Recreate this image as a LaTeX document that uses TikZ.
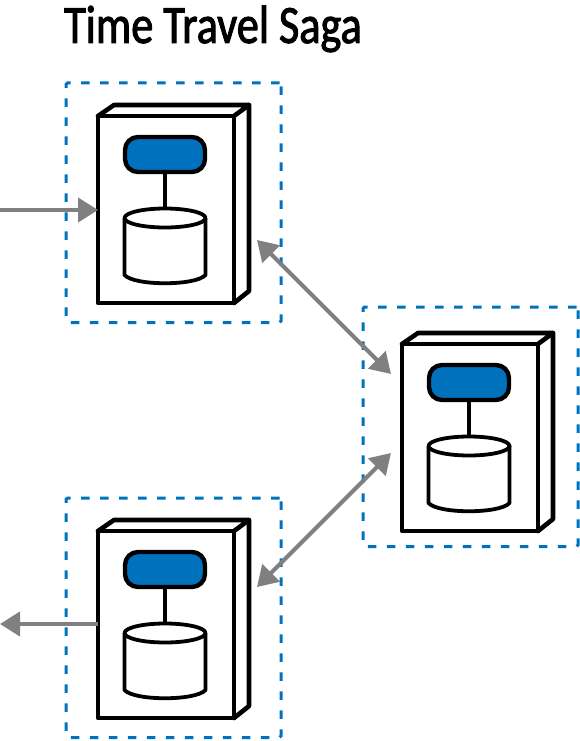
\documentclass[tikz,border=0pt]{standalone}
\usepackage{fontspec}
\setmainfont{Carlito}
\usetikzlibrary{arrows.meta}
\definecolor{sagablue}{HTML}{0071BC}
\definecolor{sagagray}{HTML}{808080}
\tikzset{
  zone/.style={draw=sagablue,line width=3pt,dash pattern=on 8.5pt off 10.5pt,rounded corners=1.5pt},
  heavy/.style={draw=black,line width=4.6pt,line join=round,line cap=round},
  pill/.style={draw=black,fill=sagablue,line width=4.4pt,rounded corners=13pt,minimum width=80pt,minimum height=35pt,inner sep=0pt,outer sep=0pt},
  thin/.style={draw=black,line width=3.8pt,line join=round},
  flow/.style={draw=sagagray,line width=4.2pt,-{Triangle[length=20pt,width=24pt]}},
  biflow/.style={draw=sagagray,line width=4.2pt,{Triangle[length=20pt,width=24pt]}-{Triangle[length=20pt,width=24pt]}},
}
% #1 name, #2 x of front-left, #3 y of front-top, #4 zone x offset, #5 zone y offset
\newcommand{\serverunit}[5]{%
  \begin{scope}[shift={(#2,#3)}]
    \node[zone,anchor=north west,minimum width=215pt,minimum height=239.5pt,inner sep=0pt,outer sep=0pt] (#1zone) at (#4,#5) {};
    \node[heavy,anchor=north west,minimum width=136pt,minimum height=187pt,inner sep=0pt,outer sep=0pt] (#1front) at (0,0) {};
    \draw[heavy] (0,0) -- (16,-11) -- (151,-11) -- (136,0);
    \draw[heavy] (151,-11) -- (151,175) -- (136,187);
    \node[pill] (#1pill) at (67,38.5) {};
    \coordinate (#1cyltop) at (67,92);
    \draw[black,line width=3.8pt] (#1pill.south) -- (#1cyltop);
    \draw[thin,fill=white] (26.5,102) -- (26.5,159) .. controls (36,170) and (98,170) .. (107.5,159) -- (107.5,102);
    \draw[thin,fill=white] (67,102) ellipse [x radius=40.5pt,y radius=9.5pt];
  \end{scope}%
}
\begin{document}
\begin{tikzpicture}[x=1pt,y=-1pt]
  \useasboundingbox (0,0) rectangle (579,741);
  \node[anchor=base west,inner sep=0pt,font=\fontsize{54}{54}\selectfont\addfontfeature{FakeStretch=0.82,FakeBold=1.8}] (title) at (64,43) {Time Travel Saga};
  \serverunit{a}{98}{116}{-32}{-33}
  \serverunit{b}{402}{344}{-39}{-37}
  \serverunit{c}{98}{531}{-32}{-33}
  \coordinate (entry) at (0,210);
  \coordinate (exit) at (0,624);
  \coordinate (atipA) at (257,240);
  \coordinate (btipA) at (391,374);
  \coordinate (btipC) at (391,453);
  \coordinate (ctipB) at (257,587);
  \coordinate (aentry) at (98,210);
  \coordinate (cexit) at (98,624);
  \draw[flow] (entry) -- (aentry);
  \draw[flow] (cexit) -- (exit);
  \draw[biflow] (atipA) -- (btipA);
  \draw[biflow] (btipC) -- (ctipB);
\end{tikzpicture}
\end{document}
